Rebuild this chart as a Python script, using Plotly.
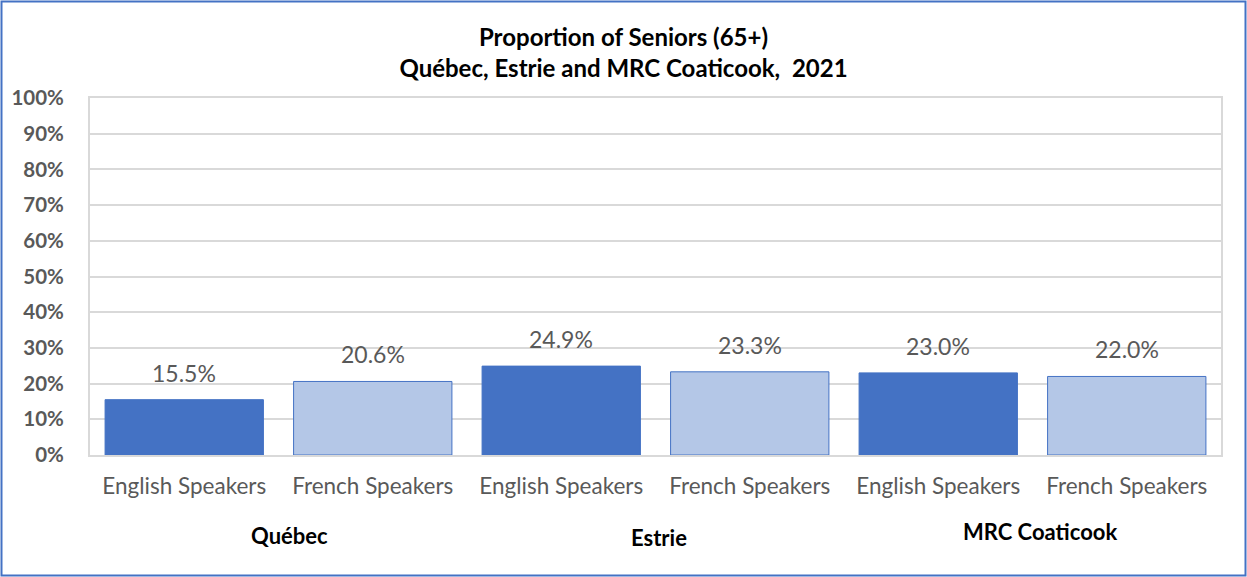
import plotly.graph_objects as go

regions = ["Québec", "Estrie", "MRC Coaticook"]
groups = ["English Speakers", "French Speakers"]
english = [15.5, 24.9, 23.0]
french = [20.6, 23.3, 22.0]
y_ticks = [0, 10, 20, 30, 40, 50, 60, 70, 80, 90, 100]

W, H = 1247, 577
L, R, T, B = 90, 26, 98, 122
FONT = "Lato, sans-serif"

x_eng = [2 * i for i in range(len(regions))]
x_fr = [2 * i + 1 for i in range(len(regions))]

fig = go.Figure()
fig.add_trace(go.Bar(
    x=x_eng, y=english, width=0.84,
    marker=dict(color="#4472c4", line=dict(color="#4472c4", width=1)),
    showlegend=False, hoverinfo="skip",
))
fig.add_trace(go.Bar(
    x=x_fr, y=french, width=0.84,
    marker=dict(color="#b4c7e7", line=dict(color="#4472c4", width=1)),
    showlegend=False, hoverinfo="skip",
))

for xs, vs in ((x_eng, english), (x_fr, french)):
    for xv, v in zip(xs, vs):
        fig.add_annotation(
            x=xv, y=v, xref="x", yref="y", text=f"{v:.1f}%",
            showarrow=False, yanchor="middle", yshift=27,
            font=dict(size=23, color="#595959", family=FONT),
        )

tickvals = list(range(2 * len(regions)))
ticktext = [groups[i % 2] for i in tickvals]

fig.update_layout(
    width=W, height=H,
    margin=dict(l=L, r=R, t=T, b=B),
    paper_bgcolor="white", plot_bgcolor="white",
    barmode="overlay",
    title=dict(
        text="<b>Proportion of Seniors (65+)<br>Québec, Estrie and MRC Coaticook,  2021</b>",
        x=0.5, xanchor="center", y=1 - 46 / H, yanchor="middle",
        font=dict(size=24, color="black", family=FONT),
    ),
    xaxis=dict(
        range=[-0.5, 5.5], tickvals=tickvals, ticktext=ticktext,
        tickfont=dict(size=22.5, color="#595959", family=FONT),
        showgrid=False, showline=True, linecolor="#d9d9d9", linewidth=2,
        mirror=True, ticks="", ticklabelstandoff=10,
    ),
    yaxis=dict(
        range=[0, 100], tickvals=y_ticks, ticktext=[f"{v}%" for v in y_ticks],
        tickfont=dict(size=20.5, color="#595959", family=FONT, weight="bold"),
        showgrid=True, gridcolor="#d9d9d9", gridwidth=1.5,
        showline=True, linecolor="#d9d9d9", linewidth=2, mirror=True,
        zeroline=False, ticks="", ticklabelstandoff=20,
    ),
    font=dict(family=FONT),
)

label_offsets = [(0.56, 535), (2.52, 537), (4.54, 531)]
for name, (xpos, ypix) in zip(regions, label_offsets):
    fig.add_annotation(
        x=xpos, xref="x", y=(H - B - ypix) / (H - T - B), yref="paper",
        text=f"<b>{name}</b>", showarrow=False,
        font=dict(size=22, color="black", family=FONT),
        xanchor="center", yanchor="middle",
    )

pw, ph = W - L - R, H - T - B
fig.add_shape(
    type="rect", xref="paper", yref="paper",
    x0=(1.5 - L) / pw, x1=(W - 1.5 - L) / pw,
    y0=(H - B - (H - 1.5)) / ph, y1=(H - B - 1.5) / ph,
    line=dict(color="#4472c4", width=2), fillcolor="rgba(0,0,0,0)",
    layer="above",
)

fig.write_html(
    "out.html",
    config={"displayModeBar": False},
    post_script="document.body.style.margin='0px';document.body.style.overflow='hidden';",
)
